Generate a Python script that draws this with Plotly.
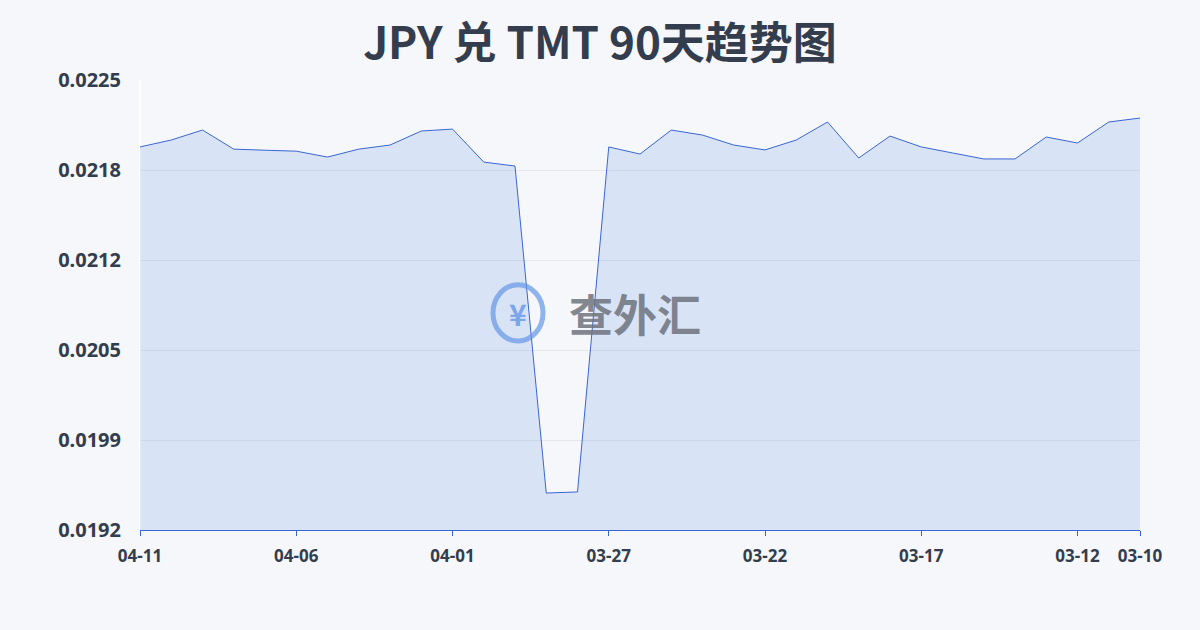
import pandas as pd
import plotly.graph_objects as go

dates = pd.date_range("2024-03-10", "2024-04-11", freq="D")[::-1].strftime("%m-%d").tolist()
rates = [0.022009, 0.02206, 0.022133, 0.021993, 0.021985, 0.021978, 0.021935, 0.021993,
         0.022023, 0.022126, 0.02214, 0.021898, 0.021869, 0.019471, 0.019479, 0.022009,
         0.021957, 0.022133, 0.022096, 0.022023, 0.021987, 0.02206, 0.022192, 0.021928,
         0.022089, 0.022009, 0.021965, 0.021921, 0.021921, 0.022082, 0.022038, 0.022192,
         0.022221]
tick_dates = ["04-11", "04-06", "04-01", "03-27", "03-22", "03-17", "03-12", "03-10"]
y_ticks = [0.0192, 0.01986, 0.02052, 0.02118, 0.02184, 0.0225]
y_labels = ["0.0192", "0.0199", "0.0205", "0.0212", "0.0218", "0.0225"]

fig = go.Figure()
fig.add_trace(go.Scatter(x=list(range(len(dates))), y=rates, mode="lines",
                         line=dict(color="#3a66d4", width=1),
                         fill="tozeroy", fillcolor="rgba(120,160,230,0.22)"))

fig.update_layout(
    width=1200, height=630,
    paper_bgcolor="#f5f7fa", plot_bgcolor="#f5f7fa",
    margin=dict(l=140, r=60, t=80, b=100),
    showlegend=False,
    font=dict(family="Noto Sans CJK SC", color="#333d4d"),
    title=dict(text="<b>JPY 兑 TMT 90天趋势图</b>", x=0.5, y=0.955, xanchor="center",
               font=dict(size=44, color="#333d4d")),
)
fig.update_xaxes(range=[0, len(dates) - 1],
                 tickvals=[dates.index(d) for d in tick_dates],
                 ticktext=["<b>%s</b>" % d for d in tick_dates],
                 showgrid=False, showline=True, linecolor="#3a66d4", ticks="outside",
                 ticklen=5, tickcolor="#3a66d4", ticklabelstandoff=6,
                 tickfont=dict(size=17, color="#333d4d", family="Noto Sans"))
fig.update_yaxes(range=[0.0192, 0.0225], tickvals=y_ticks,
                 ticktext=["<b>%s</b>" % t for t in y_labels],
                 showgrid=True, gridcolor="#e3e7ee", zeroline=False,
                 ticklabelstandoff=18,
                 tickfont=dict(size=20, color="#333d4d", family="Noto Sans"))

# watermark
fig.add_shape(type="circle", xref="paper", yref="paper", x0=0.353, x1=0.403, y0=0.42, y1=0.545,
              line=dict(color="rgba(100,150,230,0.7)", width=5))
fig.add_annotation(text="<b>¥</b>", x=0.378, y=0.482, xref="paper", yref="paper",
                   showarrow=False, font=dict(size=30, color="rgba(100,150,230,0.8)"))
fig.add_annotation(text="<b>查外汇</b>", x=0.495, y=0.482, xref="paper", yref="paper",
                   showarrow=False, font=dict(size=44, color="rgba(110,115,125,0.85)"))

fig.write_html("out.html", config={"displayModeBar": False},
               post_script="document.body.style.margin='0';")
